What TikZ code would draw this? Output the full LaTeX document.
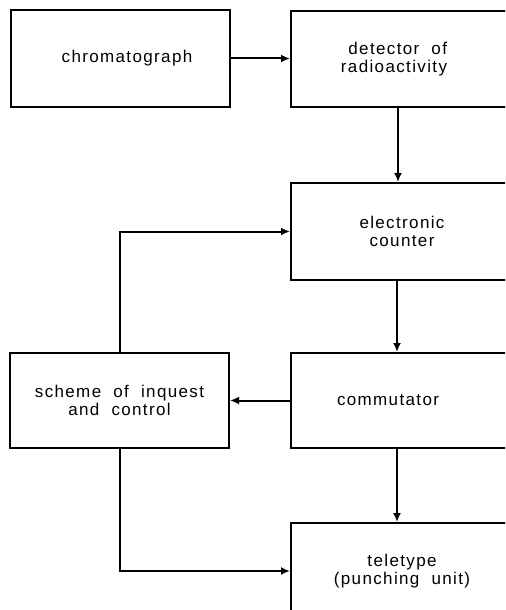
\documentclass[tikz,border=0pt]{standalone}
\usepackage{fontspec}
\setmainfont{Liberation Sans}[LetterSpace=8,WordSpace=2]
\usetikzlibrary{arrows.meta}
\begin{document}
\begin{tikzpicture}[x=0.5pt,y=-0.5pt,
  box/.style={draw,line width=1pt,inner sep=0pt,align=center,
    font=\fontsize{8.5}{9}\selectfont},
  rbox/.style={box,minimum width=111pt},
  conn/.style={line width=1pt,-{Latex[length=4.5pt,width=4pt]}}]
\useasboundingbox (0,0) rectangle (505,610);
\clip (0,0) rectangle (505,610);
\node[box,minimum width=109.5pt,minimum height=48.5pt] (chrom) at (120,58.5) {\hspace{7pt}chromatograph};
\node[rbox,minimum height=48pt,align=right] (det) at (402,59) {detector of\hspace*{8pt}\\radioactivity\hspace*{8pt}};
\node[rbox,minimum height=48.5pt] (cnt) at (402,231.5) {electronic\\counter};
\node[rbox,minimum height=47.5pt] (comm) at (402,400.5) {commutator\hspace{14pt}};
\node[box,minimum width=109.5pt,minimum height=47.5pt] (sch) at (119.5,400.5) {scheme of inquest\\and control};
\node[rbox,minimum height=48pt] (tele) at (402,571) {teletype\\(punching unit)};
\draw[conn] (chrom.east) -- (chrom.east -| det.west);
\draw[conn] ([xshift=-2pt]det.south) -- ([xshift=-2pt]cnt.north);
\draw[conn] ([xshift=-2.5pt]cnt.south) -- ([xshift=-2.5pt]comm.north);
\draw[conn] (comm.west) -- (sch.east);
\draw[conn] (sch.north) |- (cnt.west);
\draw[conn] (sch.south) |- (tele.west);
\draw[conn] ([xshift=-2.5pt]comm.south) -- ([xshift=-2.5pt]tele.north);
\end{tikzpicture}
\end{document}
